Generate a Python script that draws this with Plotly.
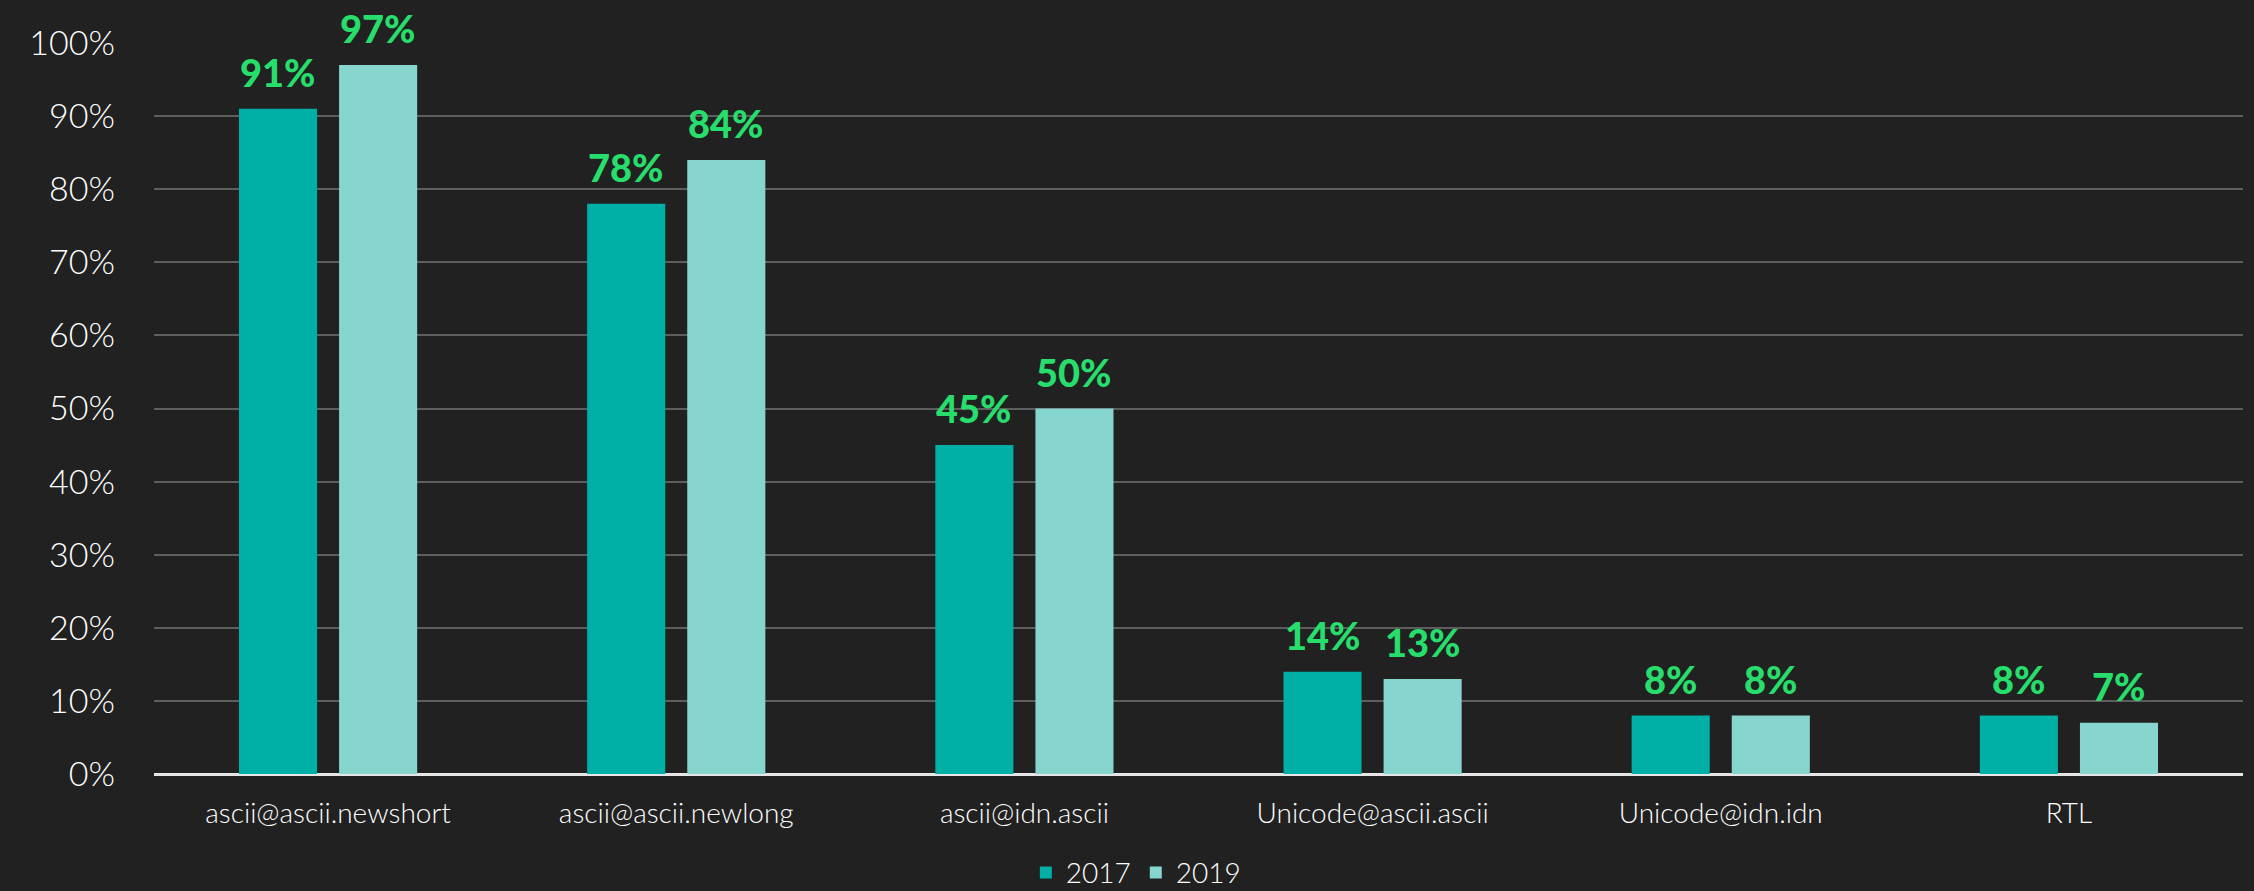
import plotly.graph_objects as go

categories = ["ascii@ascii.newshort", "ascii@ascii.newlong", "ascii@idn.ascii",
              "Unicode@ascii.ascii", "Unicode@idn.idn", "RTL"]
values_2017 = [91, 78, 45, 14, 8, 8]
values_2019 = [97, 84, 50, 13, 8, 7]
y_ticks = [0, 10, 20, 30, 40, 50, 60, 70, 80, 90, 100]

BG = "#212121"
C2017 = "#00B0A7"
C2019 = "#87D5CF"
GREEN = "#27DD6C"
FONT = "Lato"

fig = go.Figure()
fig.add_trace(go.Bar(name="2017", x=categories, y=values_2017, marker_color=C2017,
                     marker_line_width=0, hoverinfo="skip"))
fig.add_trace(go.Bar(name="2019", x=categories, y=values_2019, marker_color=C2019,
                     marker_line_width=0, hoverinfo="skip"))

for vals, shift in ((values_2017, -50), (values_2019, 50)):
    for c, v in zip(categories, vals):
        fig.add_annotation(x=c, y=v, xref="x", yref="y", text=f"{v}%", showarrow=False,
                           xshift=shift, yshift=12, yanchor="bottom",
                           font=dict(family=FONT, size=38, color=GREEN, weight=900))

fig.update_layout(
    width=2254, height=891, autosize=False,
    paper_bgcolor=BG, plot_bgcolor=BG,
    margin=dict(l=154, r=11, t=43, b=117, autoexpand=False),
    barmode="group", bargap=0.425, bargroupgap=0.22,
    font=dict(family=FONT, color="#FFFFFF"),
    showlegend=True,
    legend=dict(orientation="h", x=0.47, xanchor="center",
                y=-0.135, yanchor="middle",
                font=dict(size=28, color="#FFFFFF", weight=300),
                bgcolor="rgba(0,0,0,0)", itemwidth=30, tracegroupgap=0),
    xaxis=dict(showgrid=False, tickfont=dict(size=28, color="#FFFFFF", weight=300),
               tickangle=0, ticklabelstandoff=20, showline=False, zeroline=False,
               automargin=False),
    yaxis=dict(range=[0, 100], tickvals=y_ticks, ticktext=[f"{t}%" for t in y_ticks],
               tickfont=dict(size=34, color="#FFFFFF", weight=300), gridcolor="#5E5E5E",
               gridwidth=2, zeroline=True, zerolinecolor="#E6E6E6", zerolinewidth=3,
               ticklabelstandoff=38, showline=False, automargin=False),
)

fig.write_html("out.html", config={"displayModeBar": False},
               post_script="document.body.style.margin='0';")
